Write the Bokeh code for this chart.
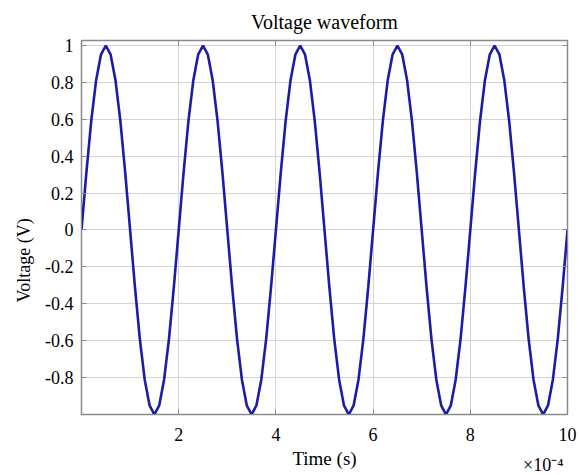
from bokeh.plotting import figure
from bokeh.models import Range1d, FixedTicker, LinearAxis, Title, ColumnDataSource
from bokeh.embed import file_html
from bokeh.resources import INLINE

title_text = "Voltage waveform"
x_label = "Time (s)"
y_label = "Voltage (V)"
x_scale_text = "\u00d710\u207b\u2074"

# time in units of 1e-4 s
time_e4 = [0.0, 0.1, 0.2, 0.3, 0.4, 0.5, 0.6, 0.7, 0.8, 0.9,
           1.0, 1.1, 1.2, 1.3, 1.4, 1.5, 1.6, 1.7, 1.8, 1.9,
           2.0, 2.1, 2.2, 2.3, 2.4, 2.5, 2.6, 2.7, 2.8, 2.9,
           3.0, 3.1, 3.2, 3.3, 3.4, 3.5, 3.6, 3.7, 3.8, 3.9,
           4.0, 4.1, 4.2, 4.3, 4.4, 4.5, 4.6, 4.7, 4.8, 4.9,
           5.0, 5.1, 5.2, 5.3, 5.4, 5.5, 5.6, 5.7, 5.8, 5.9,
           6.0, 6.1, 6.2, 6.3, 6.4, 6.5, 6.6, 6.7, 6.8, 6.9,
           7.0, 7.1, 7.2, 7.3, 7.4, 7.5, 7.6, 7.7, 7.8, 7.9,
           8.0, 8.1, 8.2, 8.3, 8.4, 8.5, 8.6, 8.7, 8.8, 8.9,
           9.0, 9.1, 9.2, 9.3, 9.4, 9.5, 9.6, 9.7, 9.8, 9.9,
           10.0]

voltage = [0.0, 0.31, 0.59, 0.81, 0.95, 1.0, 0.95, 0.81, 0.59, 0.31,
           0.0, -0.31, -0.59, -0.81, -0.95, -1.0, -0.95, -0.81, -0.59, -0.31,
           0.0, 0.31, 0.59, 0.81, 0.95, 1.0, 0.95, 0.81, 0.59, 0.31,
           0.0, -0.31, -0.59, -0.81, -0.95, -1.0, -0.95, -0.81, -0.59, -0.31,
           0.0, 0.31, 0.59, 0.81, 0.95, 1.0, 0.95, 0.81, 0.59, 0.31,
           0.0, -0.31, -0.59, -0.81, -0.95, -1.0, -0.95, -0.81, -0.59, -0.31,
           0.0, 0.31, 0.59, 0.81, 0.95, 1.0, 0.95, 0.81, 0.59, 0.31,
           0.0, -0.31, -0.59, -0.81, -0.95, -1.0, -0.95, -0.81, -0.59, -0.31,
           0.0, 0.31, 0.59, 0.81, 0.95, 1.0, 0.95, 0.81, 0.59, 0.31,
           0.0, -0.31, -0.59, -0.81, -0.95, -1.0, -0.95, -0.81, -0.59, -0.31,
           0.0]

x_ticks = [2, 4, 6, 8, 10]
y_ticks = [-0.8, -0.6, -0.4, -0.2, 0, 0.2, 0.4, 0.6, 0.8, 1]
y_tick_labels = {-0.8: "-0.8", -0.6: "-0.6", -0.4: "-0.4", -0.2: "-0.2", 0: "0",
                 0.2: "0.2", 0.4: "0.4", 0.6: "0.6", 0.8: "0.8", 1: "1"}

FONT = "Liberation Serif"
BOX = "#8a8a8a"

p = figure(width=579, height=475, output_backend="svg", toolbar_location=None,
           x_range=Range1d(0, 10), y_range=Range1d(-1.0, 1.027),
           min_border_left=81, min_border_right=12, min_border_top=40, min_border_bottom=61)
p.background_fill_color = "white"
p.border_fill_color = "white"
p.outline_line_color = BOX
p.outline_line_width = 1.5

p.title.text = title_text
p.title.align = "center"
p.title.text_font = FONT
p.title.text_font_size = "20px"
p.title.text_font_style = "normal"
p.title.text_color = "black"
p.title.standoff = 16

src = ColumnDataSource(dict(t=time_e4, v=voltage))
p.line("t", "v", source=src, line_color="#1c1ca6", line_width=2.6)

for ax in (p.xaxis[0], p.yaxis[0]):
    ax.axis_line_color = BOX
    ax.major_tick_line_color = BOX
    ax.major_tick_in = 5
    ax.major_tick_out = 0
    ax.minor_tick_line_color = None
    ax.major_label_text_font = FONT
    ax.major_label_text_font_size = "18px"
    ax.major_label_text_color = "black"
    ax.axis_label_text_font = FONT
    ax.axis_label_text_font_size = "19px"
    ax.axis_label_text_font_style = "normal"
    ax.axis_label_text_color = "black"

p.xaxis[0].ticker = FixedTicker(ticks=x_ticks)
p.yaxis[0].ticker = FixedTicker(ticks=y_ticks)
p.yaxis[0].major_label_overrides = y_tick_labels
p.xaxis[0].major_label_standoff = 13
p.yaxis[0].major_label_standoff = 8
p.xaxis[0].axis_label = x_label
p.xaxis[0].axis_label_standoff = 4

for loc, tk in (("above", x_ticks), ("right", y_ticks)):
    a = LinearAxis(ticker=FixedTicker(ticks=tk))
    a.axis_line_color = BOX
    a.major_tick_line_color = BOX
    a.major_tick_in = 5
    a.major_tick_out = 0
    a.minor_tick_line_color = None
    a.major_label_text_font_size = "0px"
    a.major_label_text_alpha = 0
    a.major_label_standoff = 0
    p.add_layout(a, loc)

p.xgrid.ticker = FixedTicker(ticks=x_ticks)
p.ygrid.ticker = FixedTicker(ticks=y_ticks)
p.grid.grid_line_color = "#d4d4d4"
p.grid.grid_line_width = 1

p.add_layout(Title(text=y_label, align="left", offset=112, standoff=17,
                   text_font=FONT, text_font_size="18px", text_font_style="normal",
                   text_color="black"), "left")
p.add_layout(Title(text=x_scale_text, align="right", vertical_align="top", offset=4, standoff=-34,
                   text_font=FONT, text_font_size="18px", text_font_style="normal",
                   text_color="black"), "below")

open("out.html", "w").write(file_html(p, INLINE))
